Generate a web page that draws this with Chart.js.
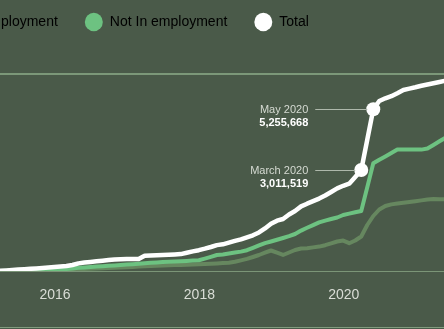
<!DOCTYPE html>
<html>
<head>
<meta charset="utf-8">
<script src="https://cdn.jsdelivr.net/npm/chart.js@4.4.1/dist/chart.umd.min.js"></script>
<style>
  html, body { margin: 0; padding: 0; background: #4a5a49; overflow: hidden; }
  body { width: 444px; height: 329px; position: relative; }
  #wrap { position: absolute; top: -12px; height: 341px; }
  #rule { position: absolute; left: 0; top: 327px; width: 444px; height: 1px; background: #819c7e; }
</style>
</head>
<body>
<div id="wrap"><canvas id="ucChart"></canvas></div>
<div id="rule"></div>
<script>
// Universal Credit claimants, thousands, monthly
const months = [
  '2015-03', '2015-04', '2015-05', '2015-06', '2015-07', '2015-08', '2015-09', '2015-10', '2015-11', '2015-12',
  '2016-01', '2016-02', '2016-03', '2016-04', '2016-05', '2016-06', '2016-07', '2016-08', '2016-09', '2016-10', '2016-11', '2016-12',
  '2017-01', '2017-02', '2017-03', '2017-04', '2017-05', '2017-06', '2017-07', '2017-08', '2017-09', '2017-10', '2017-11', '2017-12',
  '2018-01', '2018-02', '2018-03', '2018-04', '2018-05', '2018-06', '2018-07', '2018-08', '2018-09', '2018-10', '2018-11', '2018-12',
  '2019-01', '2019-02', '2019-03', '2019-04', '2019-05', '2019-06', '2019-07', '2019-08', '2019-09', '2019-10', '2019-11', '2019-12',
  '2020-01', '2020-02', '2020-03', '2020-04', '2020-05', '2020-06', '2020-07', '2020-08', '2020-09', '2020-10', '2020-11', '2020-12',
  '2021-01', '2021-02', '2021-03', '2021-04', '2021-05'
];
const inWork = [
  0, 3, 6, 10, 13, 16, 19, 23, 26, 29,
  32, 39, 45, 55, 65, 71, 81, 91, 97, 107, 117, 123,
  133, 143, 153, 162, 172, 179, 185, 192, 198, 205, 211, 218,
  227, 237, 247, 260, 270, 299, 344, 393, 455, 520, 595, 666,
  594, 520, 601, 682, 731, 741, 767, 793, 838, 900, 958, 988,
  903, 991, 1121, 1494, 1787, 1998, 2112, 2164, 2190, 2216, 2242, 2268,
  2294, 2323, 2336, 2333, 2326
];
const notInWork = [
  3, 10, 16, 19, 26, 32, 36, 42, 45, 52,
  58, 68, 84, 104, 117, 130, 143, 156, 169, 182, 195, 208,
  221, 234, 250, 270, 279, 289, 299, 309, 318, 328, 338, 348,
  403, 461, 520, 539, 569, 598, 630, 676, 754, 832, 906, 958,
  1014, 1072, 1131, 1202, 1313, 1404, 1491, 1579, 1637, 1689, 1738, 1819,
  1865, 1907, 1949, 2723, 3499, 3613, 3720, 3831, 3944, 3947, 3947, 3944,
  3944, 3977, 4094, 4214, 4331
];
const total = [
  6, 19, 32, 45, 58, 71, 84, 97, 114, 130,
  146, 162, 195, 247, 276, 296, 315, 335, 357, 377, 383, 387,
  390, 393, 497, 507, 513, 520, 526, 536, 549, 591, 637, 676,
  725, 780, 841, 867, 923, 978, 1027, 1092, 1160, 1251, 1381, 1534,
  1634, 1689, 1836, 1949, 2099, 2187, 2268, 2352, 2453, 2567, 2684, 2768,
  2836, 3054, 3281, 4266, 5256, 5523, 5611, 5679, 5777, 5881, 5926, 5968,
  6017, 6059, 6101, 6141, 6180
];
const yearTicks = [2016, 2018, 2020];
const yTop = 6400;
const noteMonths = ['2020-03', '2020-05'];
const noteTitles = ['March 2020', 'May 2020'];
const noteValues = ['3,011,519', '5,255,668'];

const FONT = '"Liberation Sans", Arial, sans-serif';
Chart.defaults.font.family = FONT;

// points sit late in their month
function toYear(m) {
  const [y, mo] = m.split('-').map(Number);
  return y + (mo - 1) / 12 + 0.075;
}
const series = arr => months.map((m, i) => ({ x: toYear(m), y: arr[i] }));

// this is a crop of a wider chart: the first legend item and the start of the axis are off screen
const meas = document.createElement('canvas').getContext('2d');
meas.font = '14px ' + FONT;
const hidden = Math.round(meas.measureText('In employment').width) - 6;
const wrap = document.getElementById('wrap');
wrap.style.left = -hidden + 'px';
wrap.style.width = (444 + hidden) + 'px';

const pxPerYear = 72.2;
const xMin = 2016 - (55 + hidden) / pxPerYear;
const xMax = 2016 + (444 - 55) / pxPerYear;

// extra room between legend and plot
const legendGap = {
  id: 'legendGap',
  beforeInit(chart) {
    const fit = chart.legend.fit;
    chart.legend.fit = function () {
      fit.call(this);
      this.height += 35;
    };
  }
};

// callouts for March and May 2020
const notes = {
  id: 'notes',
  afterDatasetsDraw(chart) {
    const ctx = chart.ctx;
    const pts = chart.getDatasetMeta(2).data;
    const first = pts[months.indexOf(noteMonths[0])];
    const right = first.x - 53;
    noteMonths.forEach((m, i) => {
      const p = pts[months.indexOf(m)];
      const ly = Math.round(p.y) + 0.5;
      ctx.save();
      ctx.strokeStyle = '#aeb8ab';
      ctx.lineWidth = 1;
      ctx.beginPath();
      ctx.moveTo(right + 7, ly);
      ctx.lineTo(p.x - 6, ly);
      ctx.stroke();
      ctx.textAlign = 'right';
      ctx.textBaseline = 'middle';
      ctx.font = '11px ' + FONT;
      ctx.fillStyle = '#d5dad2';
      ctx.fillText(noteTitles[i], right, p.y + 1);
      ctx.font = 'bold 11px ' + FONT;
      ctx.fillStyle = '#ffffff';
      ctx.fillText(noteValues[i], right, p.y + 14);
      ctx.restore();
    });
  }
};

new Chart(document.getElementById('ucChart'), {
  type: 'line',
  data: {
    datasets: [
      {
        label: 'In employment',
        data: series(inWork),
        borderColor: '#66875f',
        borderWidth: 4,
        order: 2
      },
      {
        label: 'Not In employment',
        data: series(notInWork),
        borderColor: '#6dc281',
        borderWidth: 4,
        order: 1
      },
      {
        label: 'Total',
        data: series(total),
        borderColor: '#ffffff',
        borderWidth: 4.5,
        order: 0,
        pointRadius: c => noteMonths.includes(months[c.dataIndex]) ? 7 : 0,
        pointBackgroundColor: '#ffffff',
        pointBorderWidth: 0
      }
    ]
  },
  options: {
    responsive: true,
    maintainAspectRatio: false,
    animation: false,
    events: [],
    layout: { padding: 0 },
    elements: {
      point: { radius: 0 },
      line: { tension: 0, borderJoinStyle: 'round', borderCapStyle: 'round' }
    },
    scales: {
      x: {
        type: 'linear',
        min: xMin,
        max: xMax,
        grid: { display: false, drawTicks: false },
        border: { display: false },
        afterBuildTicks: s => { s.ticks = yearTicks.map(v => ({ value: v })); },
        afterFit: s => { s.height = 58; },
        ticks: {
          padding: 16,
          color: '#d9ddd6',
          font: { size: 14 },
          maxRotation: 0,
          autoSkip: false,
          callback: v => String(v)
        }
      },
      y: {
        min: 0,
        max: yTop,
        border: { display: false },
        ticks: { display: false },
        afterBuildTicks: s => { s.ticks = [{ value: 0 }, { value: yTop }]; },
        grid: {
          drawTicks: false,
          color: c => c.tick.value === 0 ? '#7b9577' : '#7c9879',
          lineWidth: c => c.tick.value === 0 ? 1 : 2
        }
      }
    },
    plugins: {
      legend: {
        align: 'start',
        labels: {
          usePointStyle: true,
          pointStyleWidth: 18,
          boxHeight: 13,
          padding: 27,
          color: '#e6e9e4',
          font: { size: 14 },
          generateLabels: chart => chart.data.datasets.map((ds, i) => ({
            text: ds.label,
            fillStyle: ds.borderColor,
            strokeStyle: ds.borderColor,
            lineWidth: 0,
            pointStyle: 'circle',
            hidden: false,
            datasetIndex: i
          }))
        }
      },
      tooltip: { enabled: false }
    }
  },
  plugins: [legendGap, notes]
});
</script>
</body>
</html>
